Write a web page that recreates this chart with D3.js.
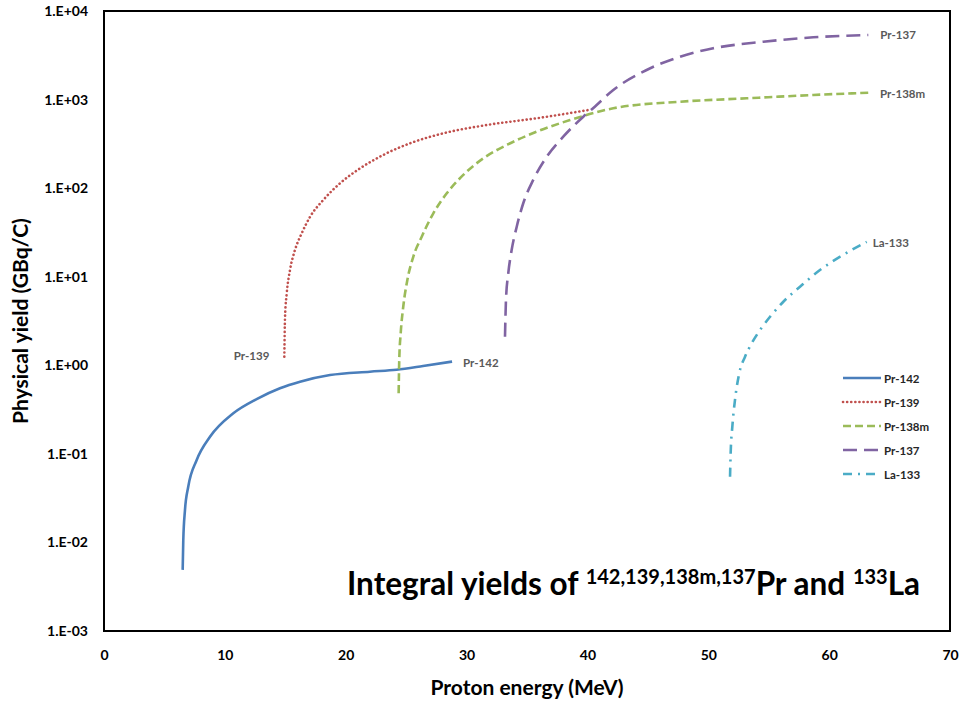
<!DOCTYPE html>
<html>
<head>
<meta charset="utf-8">
<script src="https://d3js.org/d3.v7.min.js"></script>
<style>
  body { margin: 0; background: #fff; }
  text { font-family: Lato, "Open Sans", sans-serif; }
</style>
</head>
<body>
<div id="chart"></div>
<script>
var width = 962;
var height = 702;

// proton energy (MeV) and physical yield (GBq/C)
var pr142E = [6.51, 6.56, 6.70, 6.97, 7.67, 8.77, 10.7, 12.63, 14.56, 16.22, 18.7, 22.0, 24.2, 26.4, 28.8];
var pr142Y = [0.0049, 0.0106, 0.0232, 0.0426, 0.0853, 0.156, 0.287, 0.415, 0.55, 0.653, 0.776, 0.847, 0.89, 0.98, 1.1];

var pr139E = [14.92, 14.98, 15.12, 15.39, 15.8, 16.36, 17.05, 18.14, 19.53, 21.18, 23.11, 25.32, 28.07, 31.67, 35.8, 40.07];
var pr139Y = [1.25, 3.53, 6.5, 11.9, 20, 30.9, 47.5, 73.4, 113.5, 167, 237, 321, 416, 516, 615, 762];

var pr138mE = [24.38, 24.43, 24.55, 24.76, 25.1, 25.59, 26.29, 27.25, 28.36, 29.73, 31.38, 33.32, 35.8, 38.56, 42.14, 47.66, 53.18, 58.69, 63.38];
var pr138mY = [0.483, 1.15, 2.3, 4.58, 9.18, 16.8, 28.3, 52, 87.5, 141, 217, 307, 434, 587, 797, 946, 1033, 1127, 1196];

var pr137E = [33.18, 33.26, 33.45, 33.73, 34.15, 34.69, 35.52, 36.63, 38.0, 39.66, 40.49, 42.14, 44.9, 47.66, 50.41, 54.55, 58.69, 63.24];
var pr137Y = [2.1, 5.46, 10.9, 20, 36.7, 67.5, 124, 226, 381, 641, 803, 1283, 2157, 3048, 3793, 4500, 5047, 5357];

var la133E = [51.8, 51.85, 51.99, 52.21, 52.56, 53.04, 53.59, 54.28, 55.11, 56.21, 57.59, 59.24, 60.9, 63.11];
var la133Y = [0.0552, 0.101, 0.203, 0.406, 0.811, 1.25, 1.77, 2.5, 3.53, 5.22, 7.71, 11.9, 16.8, 24.8];

var xTicks = [0, 10, 20, 30, 40, 50, 60, 70];
var yTicks = [1e-3, 1e-2, 1e-1, 1e0, 1e1, 1e2, 1e3, 1e4];

var series = [
  {name: "Pr-142", e: pr142E, y: pr142Y, color: "#4a7ebb", dash: null, cap: "butt", lx: 11, ly: 5, anchor: "start"},
  {name: "Pr-139", e: pr139E, y: pr139Y, color: "#c0504d", dash: "0.1,4", cap: "round", lx: -15, ly: 3, anchor: "end", first: true},
  {name: "Pr-138m", e: pr138mE, y: pr138mY, color: "#9bbb59", dash: "8,4", cap: "butt", lx: 10, ly: 5, anchor: "start"},
  {name: "Pr-137", e: pr137E, y: pr137Y, color: "#8064a2", dash: "14,7", cap: "butt", lx: 12, ly: 4, anchor: "start"},
  {name: "La-133", e: la133E, y: la133Y, color: "#4bacc6", dash: "9,6,2,6", cap: "butt", lx: 6, ly: 5, anchor: "start"}
];

var margin = {left: 104, top: 11, right: 12, bottom: 71};

var svg = d3.select("#chart").append("svg")
  .attr("width", width)
  .attr("height", height);

var x = d3.scaleLinear().domain([0, 70]).range([margin.left, width - margin.right]);
var y = d3.scaleLog().domain([1e-3, 1e4]).range([height - margin.bottom, margin.top]);

function fmt(v) {
  var p = Math.round(Math.log10(v));
  var s = Math.abs(p) < 10 ? "0" + Math.abs(p) : "" + Math.abs(p);
  return "1.E" + (p < 0 ? "-" : "+") + s;
}

// axes without tick marks or domain line, the frame is drawn separately
var xAxis = svg.append("g")
  .attr("transform", "translate(0," + (height - margin.bottom) + ")")
  .call(d3.axisBottom(x).tickValues(xTicks).tickSize(0).tickPadding(19).tickFormat(d3.format("d")));
xAxis.select(".domain").remove();
xAxis.selectAll("text")
  .style("font-family", "Lato, sans-serif")
  .style("font-size", "14px")
  .style("font-weight", "bold")
  .attr("fill", "#000");

var yAxis = svg.append("g")
  .attr("transform", "translate(" + margin.left + ",0)")
  .call(d3.axisLeft(y).tickValues(yTicks).tickSize(0).tickPadding(16).tickFormat(fmt));
yAxis.select(".domain").remove();
yAxis.selectAll("text")
  .style("font-family", "Lato, sans-serif")
  .style("font-size", "14px")
  .style("font-weight", "bold")
  .attr("fill", "#000");

svg.append("rect")
  .attr("x", x(0))
  .attr("y", y(1e4))
  .attr("width", x(70) - x(0))
  .attr("height", y(1e-3) - y(1e4))
  .attr("fill", "none")
  .attr("stroke", "#000")
  .attr("stroke-width", 2);

var line = d3.line()
  .x(function(d) { return x(d[0]); })
  .y(function(d) { return y(d[1]); })
  .curve(d3.curveMonotoneX);

series.forEach(function(s) {
  var pts = s.e.map(function(e, i) { return [e, s.y[i]]; });
  svg.append("path")
    .datum(pts)
    .attr("d", line)
    .attr("fill", "none")
    .attr("stroke", s.color)
    .attr("stroke-width", 2.6)
    .attr("stroke-linecap", s.cap)
    .attr("stroke-dasharray", s.dash);

  var p = s.first ? pts[0] : pts[pts.length - 1];
  svg.append("text")
    .attr("x", x(p[0]) + s.lx)
    .attr("y", y(p[1]) + s.ly)
    .attr("text-anchor", s.anchor)
    .attr("fill", "#595959")
    .style("font-size", "11.5px")
    .style("font-weight", "bold")
    .text(s.name);
});

// legend
var legend = svg.append("g").attr("transform", "translate(843,378)");
series.forEach(function(s, i) {
  var g = legend.append("g").attr("transform", "translate(0," + (i * 24) + ")");
  g.append("line")
    .attr("x1", 0).attr("x2", 38)
    .attr("stroke", s.color)
    .attr("stroke-width", 2.6)
    .attr("stroke-linecap", s.cap)
    .attr("stroke-dasharray", s.dash);
  g.append("text")
    .attr("x", 41)
    .attr("y", 4.5)
    .attr("fill", "#262626")
    .style("font-size", "11.5px")
    .style("font-weight", "bold")
    .text(s.name);
});

// title with superscript mass numbers
var title = svg.append("text")
  .attr("x", 347)
  .attr("y", 595)
  .style("font-size", "31.5px")
  .style("font-weight", "bold")
  .attr("fill", "#000");
title.append("tspan").text("Integral yields of ");
title.append("tspan").attr("dy", -11).style("font-size", "20px").text("142,139,138m,137");
title.append("tspan").attr("dy", 11).text("Pr and ");
title.append("tspan").attr("dy", -11).style("font-size", "20px").text("133");
title.append("tspan").attr("dy", 11).text("La");

svg.append("text")
  .attr("x", x(35))
  .attr("y", 695)
  .attr("text-anchor", "middle")
  .style("font-size", "21px")
  .style("font-weight", "bold")
  .text("Proton energy (MeV)");

svg.append("text")
  .attr("transform", "translate(28," + ((y(1e4) + y(1e-3)) / 2) + ") rotate(-90)")
  .attr("text-anchor", "middle")
  .style("font-size", "21px")
  .style("font-weight", "bold")
  .text("Physical yield (GBq/C)");
</script>
</body>
</html>
